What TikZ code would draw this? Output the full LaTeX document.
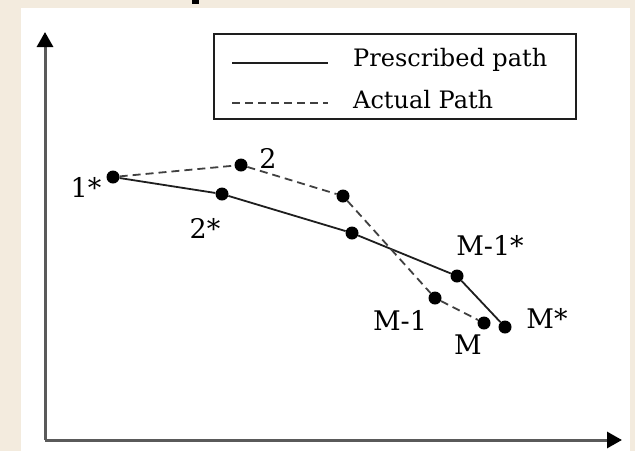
\documentclass[tikz,border=0pt]{standalone}
\usepackage{fontspec}
\setmainfont{DejaVu Serif}
\usetikzlibrary{positioning, arrows.meta}
\definecolor{PageBeige}{RGB}{243,235,222}
\definecolor{AxisGray}{RGB}{90,90,90}
\definecolor{LineGray}{RGB}{30,30,30}

\begin{document}
\begin{tikzpicture}[x=1pt, y=-1pt,
  dot/.style={circle, fill=black, inner sep=0pt, minimum size=13pt},
  prescribed/.style={line width=1.8pt, LineGray},
  actual/.style={line width=1.8pt, LineGray!85, dash pattern=on 8pt off 5pt},
  axis/.style={line width=3pt, AxisGray, -{Triangle[length=15pt, width=16pt, color=black]}},
  lbl/.style={font=\fontsize{27}{27}\selectfont, inner sep=0pt},
  legtext/.style={font=\fontsize{24}{24}\selectfont, inner sep=0pt, anchor=west}
]

% page and plot area
\useasboundingbox (0,0) rectangle (635,451);
\fill[PageBeige] (0,0) rectangle (635,451);
\fill[white] (21,8) rectangle (630,451);
\fill[black] (192,0) rectangle (199,4);

% axes
\coordinate (origin) at (45,440);
\coordinate (ytop) at (45,32);
\coordinate (xend) at (622,440);
\draw[axis] (origin) -- (ytop);
\draw[axis] (origin) -- (xend);

% legend
\node[draw=LineGray, line width=2pt, minimum width=362pt, minimum height=85pt, anchor=north west, inner sep=0pt] (legend) at (213,33) {};
\coordinate (solidA) at (232,63);
\coordinate (solidB) at (328,63);
\coordinate (dashA) at (232,103);
\coordinate (dashB) at (328,103);
\draw[prescribed] (solidA) -- (solidB);
\draw[actual] (dashA) -- (dashB);
\node[legtext] (legsolid) at (353,60) {Prescribed path};
\node[legtext] (legdash) at (353,100) {Actual Path};

% points
\node[dot] (p1s) at (113,177) {};
\node[dot] (p2s) at (222,194) {};
\node[dot] (p3s) at (352,233) {};
\node[dot] (pm1s) at (457,276) {};
\node[dot] (pms) at (505,327) {};
\node[dot] (a2) at (241,165) {};
\node[dot] (a3) at (343,196) {};
\node[dot] (am1) at (435,298) {};
\node[dot] (am) at (484,323) {};

% paths
\draw[prescribed] (p1s) -- (p2s) -- (p3s) -- (pm1s) -- (pms);
\draw[actual] (p1s) -- (a2) -- (a3) -- (am1) -- (am);

% point labels
\node[lbl] (l1s) at (86,187) {1*};
\node[lbl] (l2s) at (205,228) {2*};
\node[lbl] (l2) at (268,158) {2};
\node[lbl] (lm1s) at (490,245) {M-1*};
\node[lbl] (lm1) at (400,320) {M-1};
\node[lbl] (lm) at (468,345) {M};
\node[lbl] (lms) at (547,318) {M*};

\end{tikzpicture}
\end{document}
